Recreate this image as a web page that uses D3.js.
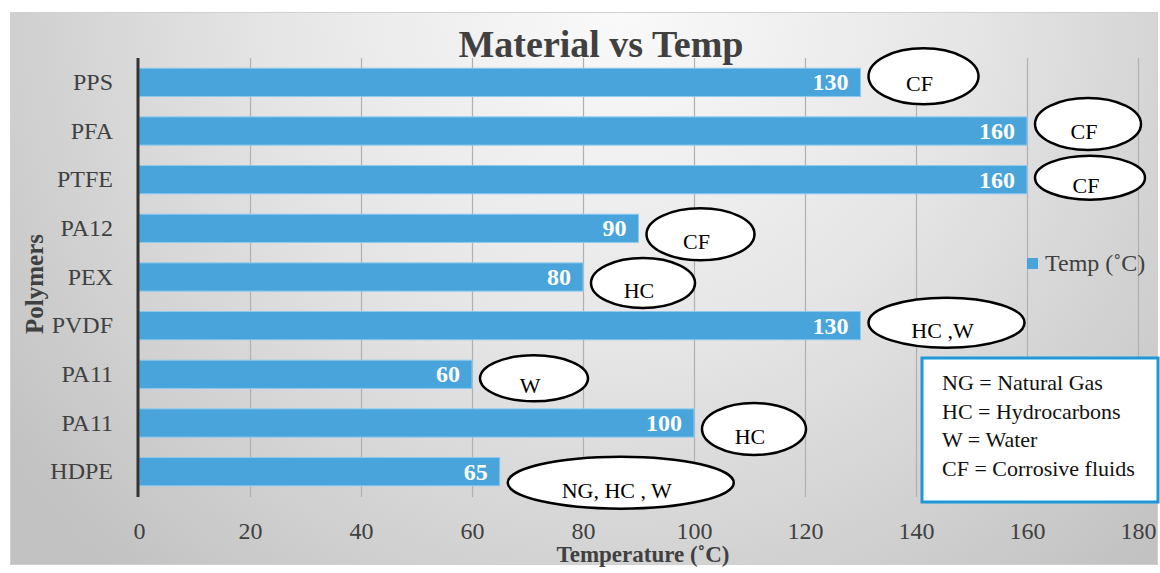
<!DOCTYPE html>
<html>
<head>
<meta charset="utf-8">
<script src="https://cdn.jsdelivr.net/npm/d3@7"></script>
<style>
  body { margin: 0; background: #ffffff; }
  text { font-family: "Liberation Serif", "Times New Roman", serif; }
</style>
</head>
<body>
<svg width="1160" height="573"></svg>
<script>
const polymers = ["PPS", "PFA", "PTFE", "PA12", "PEX", "PVDF", "PA11", "PA11", "HDPE"];
const temps = [130, 160, 160, 90, 80, 130, 60, 100, 65];
const fluids = ["CF", "CF", "CF", "CF", "HC", "HC ,W", "W", "HC", "NG, HC , W"];
const xTicks = [0, 20, 40, 60, 80, 100, 120, 140, 160, 180];
const keyLines = ["NG = Natural Gas", "HC = Hydrocarbons", "W = Water", "CF = Corrosive fluids"];

// hand placement of the callout ellipses (vertical nudge, radii)
const noteDy = [-6, -7, -2, 6, 6, -3, 4, 6, 11];
const noteRx = [55, 53, 55, 54, 52, 78, 54, 52, 113];
const noteRy = [28, 26, 22, 26, 25, 25, 23, 26, 26];

const width = 1160;
const height = 573;
const svg = d3.select("svg");

// background
const defs = svg.append("defs");
const grad = defs.append("radialGradient")
  .attr("id", "bg")
  .attr("gradientUnits", "userSpaceOnUse")
  .attr("cx", 620).attr("cy", 0).attr("r", 760);
grad.append("stop").attr("offset", "0%").attr("stop-color", "#fafafa");
grad.append("stop").attr("offset", "45%").attr("stop-color", "#e6e6e6");
grad.append("stop").attr("offset", "100%").attr("stop-color", "#c2c2c2");

svg.append("rect")
  .attr("x", 10.5).attr("y", 12.5)
  .attr("width", 1147).attr("height", 552)
  .attr("fill", "url(#bg)")
  .attr("stroke", "#d0d0d0");

const x = d3.scaleLinear().domain([0, 180]).range([139, 1138]);
const y = d3.scaleBand()
  .domain(d3.range(polymers.length))
  .range([58, 496])
  .paddingInner(0.42)
  .paddingOuter(0.21);

// grid
svg.append("g")
  .attr("transform", "translate(0,497)")
  .call(d3.axisBottom(x).tickValues(xTicks.slice(1)).tickSize(-439).tickFormat(""))
  .call(g => g.select(".domain").remove())
  .call(g => g.selectAll("line").attr("stroke", "#b0b0b0").attr("stroke-width", 1.2));

// x tick labels
svg.append("g")
  .attr("transform", "translate(0,519)")
  .call(d3.axisBottom(x).tickValues(xTicks).tickSize(0))
  .call(g => g.select(".domain").remove())
  .call(g => g.selectAll("text")
    .attr("fill", "#404040")
    .style("font-size", "24px"));

// bars
svg.append("g")
  .selectAll("rect")
  .data(temps)
  .join("rect")
  .attr("x", x(0))
  .attr("y", (d, i) => y(i))
  .attr("width", d => x(d) - x(0))
  .attr("height", y.bandwidth())
  .attr("fill", "#48a4da")
  .attr("stroke", "#8ccaee")
  .attr("stroke-width", 1);

// value labels
svg.append("g")
  .selectAll("text")
  .data(temps)
  .join("text")
  .attr("x", d => x(d) - 12)
  .attr("y", (d, i) => y(i) + y.bandwidth() / 2 + 8)
  .attr("text-anchor", "end")
  .attr("fill", "#ffffff")
  .attr("font-weight", "bold")
  .style("font-size", "24px")
  .text(d => d);

// y axis
svg.append("g")
  .attr("transform", "translate(138,0)")
  .call(d3.axisLeft(y).tickSize(0).tickPadding(25).tickFormat(i => polymers[i]))
  .call(g => g.select(".domain")
    .attr("d", "M0,58V497")
    .attr("stroke", "#333333")
    .attr("stroke-width", 3))
  .call(g => g.selectAll("text")
    .attr("fill", "#404040")
    .style("font-size", "24px"));

// callouts
const notes = svg.append("g")
  .selectAll("g")
  .data(fluids)
  .join("g")
  .attr("transform", (d, i) =>
    `translate(${x(temps[i]) + 8 + noteRx[i]},${y(i) + y.bandwidth() / 2 + noteDy[i]})`);

notes.append("ellipse")
  .attr("rx", (d, i) => noteRx[i])
  .attr("ry", (d, i) => noteRy[i])
  .attr("fill", "#ffffff")
  .attr("stroke", "#000000")
  .attr("stroke-width", 2.5);

notes.append("text")
  .attr("x", -4)
  .attr("y", 15)
  .attr("text-anchor", "middle")
  .attr("fill", "#000000")
  .style("font-size", "22px")
  .text(d => d);

// title
svg.append("text")
  .attr("x", 601)
  .attr("y", 57)
  .attr("text-anchor", "middle")
  .attr("fill", "#404040")
  .attr("font-weight", "bold")
  .style("font-size", "38px")
  .text("Material vs Temp");

// axis titles
svg.append("text")
  .attr("x", 643)
  .attr("y", 562)
  .attr("text-anchor", "middle")
  .attr("fill", "#404040")
  .attr("font-weight", "bold")
  .style("font-size", "23px")
  .text("Temperature (˚C)");

svg.append("text")
  .attr("transform", "translate(43,284) rotate(-90)")
  .attr("text-anchor", "middle")
  .attr("fill", "#404040")
  .attr("font-weight", "bold")
  .style("font-size", "25px")
  .text("Polymers");

// legend
const legend = svg.append("g").attr("transform", "translate(1027,258)");
legend.append("rect")
  .attr("width", 11).attr("height", 11)
  .attr("fill", "#48a4da");
legend.append("text")
  .attr("x", 18).attr("y", 13)
  .attr("fill", "#404040")
  .style("font-size", "24px")
  .text("Temp (˚C)");

// key box
const key = svg.append("g").attr("transform", "translate(922,358)");
key.append("rect")
  .attr("width", 236).attr("height", 144)
  .attr("fill", "#ffffff")
  .attr("stroke", "#1e98d6")
  .attr("stroke-width", 3);
key.selectAll("text")
  .data(keyLines)
  .join("text")
  .attr("x", 20)
  .attr("y", (d, i) => 32 + i * 28.5)
  .attr("fill", "#111111")
  .style("font-size", "22px")
  .text(d => d);
</script>
</body>
</html>
